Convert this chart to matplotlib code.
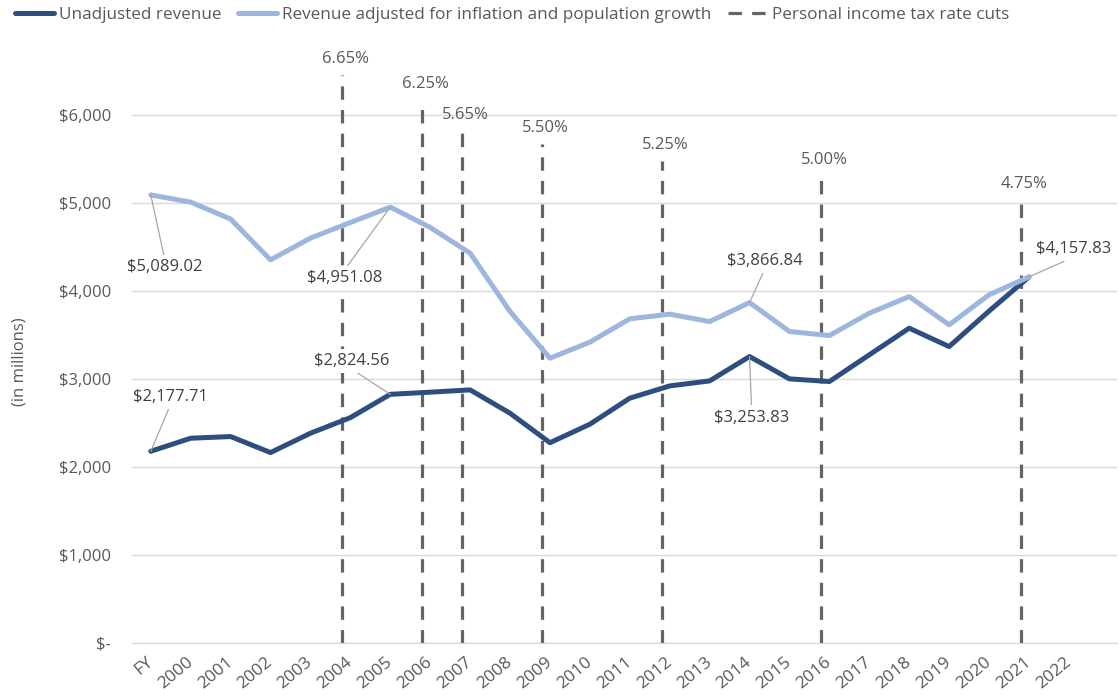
import matplotlib
matplotlib.use("Agg")
import matplotlib.pyplot as plt
from matplotlib.ticker import FixedLocator, FuncFormatter
from matplotlib.transforms import ScaledTranslation

plt.rcParams.update({
    "font.family": ["Open Sans", "DejaVu Sans"],
    "font.size": 12,
    "text.color": "#595959",
    "axes.labelcolor": "#595959",
    "xtick.color": "#595959",
    "ytick.color": "#595959",
})

# x-axis categories
categories = ["FY", "2000", "2001", "2002", "2003", "2004", "2005", "2006", "2007",
              "2008", "2009", "2010", "2011", "2012", "2013", "2014", "2015", "2016",
              "2017", "2018", "2019", "2020", "2021", "2022"]

# revenue, $ millions (one value per category, last category empty)
unadjusted = [2177.71, 2326, 2345, 2163, 2383, 2560, 2824.56, 2849, 2875, 2610, 2275,
              2485, 2781, 2920, 2977, 3253.83, 3000, 2970, 3273, 3576, 3367, 3770, 4157.83]
adjusted = [5089.02, 5008, 4815, 4352, 4599, 4776, 4951.08, 4720, 4428, 3765, 3235,
            3417, 3682, 3735, 3651, 3866.84, 3538, 3492, 3746, 3935, 3614, 3955, 4157.83]

# personal income tax rate cuts
cut_years = ["2004", "2006", "2007", "2009", "2012", "2016", "2021"]
cut_rates = ["6.65%", "6.25%", "5.65%", "5.50%", "5.25%", "5.00%", "4.75%"]
cut_heights = [6450, 6170, 5820, 5670, 5470, 5300, 5030]

# labelled points: (series, index, offset in points)
labelled = [
    ("adj", 0, (10, -52)),
    ("adj", 6, (-33, -51)),
    ("adj", 15, (11, 30)),
    ("adj", 22, (32, 20)),
    ("unadj", 0, (14, 39)),
    ("unadj", 6, (-28, 24)),
    ("unadj", 15, (1.5, -44)),
]

DARK = "#2D4E7E"
LIGHT = "#9DB6DD"
DASH = "#646464"
GRID = "#D9D9D9"

fig = plt.figure(figsize=(11.19, 6.98), dpi=100)
ax = fig.add_axes([0.118, 0.0788, 0.880, 0.864])

xs = list(range(len(unadjusted)))
ax.plot(xs, unadjusted, color=DARK, lw=3.6, solid_capstyle="round",
        solid_joinstyle="round", label="Unadjusted revenue", zorder=3)
ax.plot(xs, adjusted, color=LIGHT, lw=3.6, solid_capstyle="round",
        solid_joinstyle="round", label="Revenue adjusted for inflation and population growth",
        zorder=4)

# tax cut markers sit a little before the fiscal-year tick
for yr, rate, h in zip(cut_years, cut_rates, cut_heights):
    xpos = categories.index(yr) - 0.2
    ax.plot([xpos, xpos], [0, h], color=DASH, lw=2.3, dashes=(4.2, 3.2),
            zorder=2, label="Personal income tax rate cuts" if yr == cut_years[0] else None)
    ax.annotate(rate, xy=(xpos, h), xytext=(2.5, 11.5), textcoords="offset points",
                ha="center", va="center", fontsize=12, color="#595959")

for series, i, off in labelled:
    vals = adjusted if series == "adj" else unadjusted
    v = vals[i]
    relpos = (0.5, 0.0) if off[1] > 0 else (0.5, 1.0)
    ax.annotate(f"${v:,.2f}", xy=(i, v), xytext=off, textcoords="offset points",
                ha="center", va="center", fontsize=12, color="#404040",
                bbox=dict(boxstyle="square,pad=0.25", fc="white", ec="none"),
                arrowprops=dict(arrowstyle="-", color="#A6A6A6", lw=0.9,
                                shrinkA=0, shrinkB=0, relpos=relpos), zorder=6)

ax.set_xlim(-0.47, 24.2)
ax.set_ylim(0, 6850)
ax.yaxis.set_major_locator(FixedLocator([0, 1000, 2000, 3000, 4000, 5000, 6000]))
ax.yaxis.set_major_formatter(FuncFormatter(lambda v, p: "$-" if v == 0 else f"${v:,.0f}"))
ax.grid(axis="y", color=GRID, lw=1.0, zorder=0)
ax.set_axisbelow(True)
for s in ["top", "right", "left"]:
    ax.spines[s].set_visible(False)
ax.spines["bottom"].set_color(GRID)
ax.tick_params(axis="y", length=0, pad=15, labelsize=12)
ax.tick_params(axis="x", length=0, pad=8, labelsize=12.5)

ax.set_xticks(range(len(categories)))
ax.set_xticklabels(categories, rotation=40, ha="right", va="top", rotation_mode="anchor")
shift = ScaledTranslation(-5 / 100, 0, fig.dpi_scale_trans)
for lbl in ax.get_xticklabels():
    lbl.set_transform(lbl.get_transform() + shift)

ax.set_ylabel("(in millions)", fontsize=12)
ax.yaxis.set_label_coords(-0.106, 0.466)

fig.legend(loc="upper left", bbox_to_anchor=(0.004, 1.004), ncol=3, frameon=False,
           handlelength=2.3, handletextpad=0.3, columnspacing=0.95, fontsize=12.3,
           borderaxespad=0.2)

fig.savefig("out.png", dpi=100)
